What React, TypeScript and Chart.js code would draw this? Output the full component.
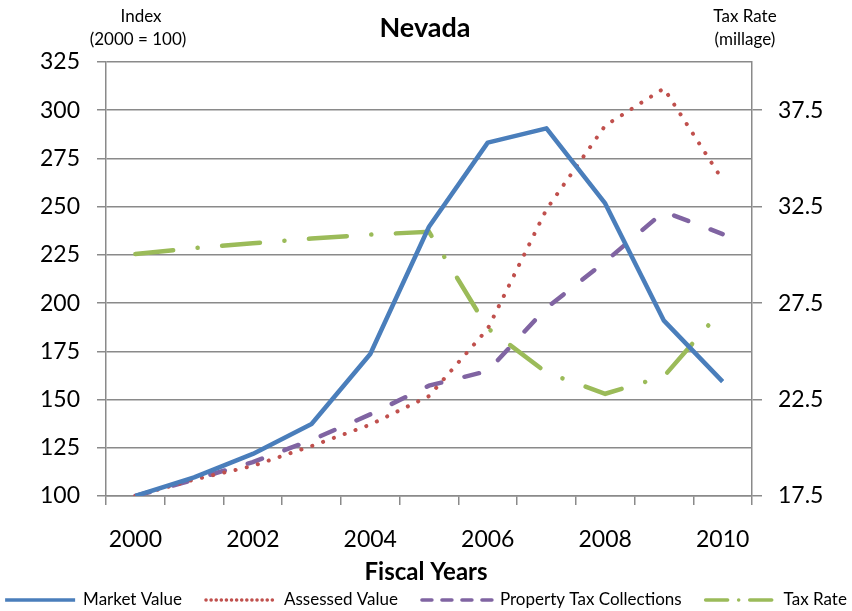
import React, { useEffect, useRef } from 'react';
import { Chart, registerables } from 'chart.js';

Chart.register(...registerables);

// Fiscal years on the category axis
const years = ['2000', '2001', '2002', '2003', '2004', '2005', '2006', '2007', '2008', '2009', '2010'];

// Index series (2000 = 100), left axis
const marketValue = [100, 109.7, 121.8, 137.3, 173.6, 239.6, 283.2, 290.6, 251.7, 190.9, 159.3];
const assessedValue = [100, 108.5, 115.6, 125.9, 137.0, 151.8, 186.7, 248.6, 292.0, 311.3, 263.8];
const propertyTaxCollections = [100, 108.5, 117.6, 129.0, 142.3, 157.2, 164.8, 197.5, 221.5, 247.4, 235.8];

// Tax rate in mills, right axis
const taxRate = [30.05, 30.35, 30.6, 30.85, 31.05, 31.2, 26.2, 23.9, 22.8, 23.7, 27.2];

// Axis ranges and ticks
const indexMin = 100;
const indexMax = 325;
const indexStep = 25;
const taxRateMin = 17.5;
const taxRateMax = 40;
const taxRateTicks = [17.5, 22.5, 27.5, 32.5, 37.5];

const FONT = 'Lato, "Open Sans", sans-serif';
const GRID = '#8a8a8a';

const titleText = 'Nevada';
const leftUnitText = ['Index', '(2000 = 100)'];
const rightUnitText = ['Tax Rate', '(millage)'];
const xTitleText = 'Fiscal Years';

// Title, unit captions, x-axis title and legend drawn on the canvas
const decorations = {
  id: 'decorations',
  afterDraw(chart: any) {
    const { ctx, width } = chart;
    ctx.save();
    ctx.fillStyle = '#000';
    ctx.textAlign = 'center';
    ctx.textBaseline = 'middle';

    ctx.font = `bold 27px ${FONT}`;
    ctx.fillText(titleText, width / 2 - 1, 28);

    ctx.font = `17px ${FONT}`;
    ctx.fillText(leftUnitText[0], 141, 17);
    ctx.fillText(leftUnitText[1], 138, 40);
    ctx.fillText(rightUnitText[0], 745, 17);
    ctx.fillText(rightUnitText[1], 745, 40);

    ctx.font = `bold 24px ${FONT}`;
    ctx.fillText(xTitleText, width / 2, 572);

    // legend row
    const lineLen = 70;
    const gap = 8;
    const spacing = 24;
    const legendY = 600;
    ctx.font = `17px ${FONT}`;
    const items = chart.data.datasets.map((ds: any) => ({
      ds,
      textW: ctx.measureText(ds.label).width,
    }));
    const total =
      items.reduce((s: number, it: any) => s + lineLen + gap + it.textW, 0) + spacing * (items.length - 1);
    let x = (width - total) / 2;
    items.forEach((it: any) => {
      const ds = it.ds;
      ctx.save();
      ctx.strokeStyle = ds.borderColor;
      ctx.lineWidth = Math.min(ds.borderWidth, 3.5);
      ctx.lineCap = ds.borderCapStyle || 'butt';
      ctx.setLineDash(ds.legendDash || ds.borderDash || []);
      ctx.beginPath();
      ctx.moveTo(x, legendY);
      ctx.lineTo(x + lineLen, legendY);
      ctx.stroke();
      ctx.restore();
      ctx.textAlign = 'left';
      ctx.fillStyle = '#000';
      ctx.fillText(ds.label, x + lineLen + gap, legendY);
      x += lineLen + gap + it.textW + spacing;
    });
    ctx.restore();
  },
};

export default function App() {
  const canvasRef = useRef<HTMLCanvasElement | null>(null);

  useEffect(() => {
    if (!canvasRef.current) return;
    const chart = new Chart(canvasRef.current, {
      type: 'line',
      data: {
        labels: years,
        datasets: [
          {
            label: 'Market Value',
            data: marketValue,
            yAxisID: 'y',
            borderColor: '#4a7ebb',
            borderWidth: 4.5,
            borderCapStyle: 'butt',
            borderJoinStyle: 'round',
            pointRadius: 0,
            tension: 0,
            fill: false,
          },
          {
            label: 'Assessed Value',
            data: assessedValue,
            yAxisID: 'y',
            borderColor: '#c0504d',
            borderWidth: 4,
            borderCapStyle: 'round',
            borderDash: [0.1, 11.4],
            legendDash: [0.1, 5],
            pointRadius: 0,
            tension: 0,
            fill: false,
          } as any,
          {
            label: 'Property Tax Collections',
            data: propertyTaxCollections,
            yAxisID: 'y',
            borderColor: '#8064a2',
            borderWidth: 4.5,
            borderCapStyle: 'round',
            borderDash: [15, 24],
            legendDash: [10, 10],
            pointRadius: 0,
            tension: 0,
            fill: false,
          } as any,
          {
            label: 'Tax Rate',
            data: taxRate,
            yAxisID: 'y1',
            borderColor: '#9bbb59',
            borderWidth: 4.5,
            borderCapStyle: 'round',
            borderDash: [38, 24.5, 0.1, 24.5],
            legendDash: [22, 11, 0.1, 11],
            pointRadius: 0,
            tension: 0,
            fill: false,
          } as any,
        ],
      },
      options: {
        animation: false,
        responsive: false,
        maintainAspectRatio: false,
        events: [],
        layout: { padding: { top: 62, bottom: 55, left: 0, right: 0 } },
        plugins: {
          legend: { display: false },
          title: { display: false },
          tooltip: { enabled: false },
        },
        scales: {
          x: {
            type: 'category',
            offset: true,
            border: { display: true, color: GRID, width: 1.5 },
            grid: {
              display: true,
              offset: true,
              drawOnChartArea: false,
              drawTicks: true,
              tickLength: 9,
              color: GRID,
              lineWidth: 1.5,
            },
            ticks: {
              autoSkip: false,
              maxRotation: 0,
              padding: 21,
              color: '#000',
              font: { family: FONT, size: 23 },
              callback: function (this: any, value: any, index: number) {
                return index % 2 === 0 ? this.getLabelForValue(value) : '';
              },
            },
            afterFit: (scale: any) => {
              scale.height = 60;
            },
          },
          y: {
            type: 'linear',
            position: 'left',
            min: indexMin,
            max: indexMax,
            border: { display: true, color: GRID, width: 1.5 },
            grid: {
              color: GRID,
              lineWidth: 1.5,
              drawTicks: true,
              tickLength: 9,
            },
            ticks: {
              stepSize: indexStep,
              padding: 17,
              color: '#000',
              font: { family: FONT, size: 23 },
            },
            afterFit: (scale: any) => {
              scale.width = 106;
            },
          },
          y1: {
            type: 'linear',
            position: 'right',
            min: taxRateMin,
            max: taxRateMax,
            border: { display: true, color: GRID, width: 1.5 },
            grid: {
              drawOnChartArea: false,
              drawTicks: true,
              tickLength: 10,
              color: GRID,
              lineWidth: 1.5,
            },
            ticks: {
              padding: 16,
              color: '#000',
              font: { family: FONT, size: 23 },
              callback: (value: any) => Number(value).toFixed(1),
            },
            afterBuildTicks: (scale: any) => {
              scale.ticks = taxRateTicks.map((v) => ({ value: v }));
            },
            afterFit: (scale: any) => {
              scale.width = 100;
            },
          },
        },
      },
      plugins: [decorations],
    });
    return () => chart.destroy();
  }, []);

  return (
    <div style={{ position: 'fixed', left: 0, top: 0, width: 852, height: 611, background: '#fff' }}>
      <canvas ref={canvasRef} width={852} height={611} style={{ display: 'block', width: 852, height: 611 }} />
    </div>
  );
}
